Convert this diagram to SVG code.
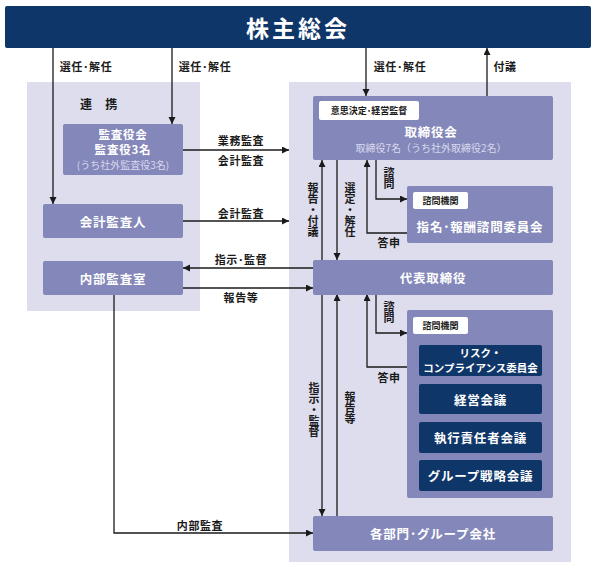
<svg xmlns="http://www.w3.org/2000/svg" width="596" height="567" viewBox="0 0 596 567">
<defs>
<marker id="ah" markerUnits="userSpaceOnUse" markerWidth="8" markerHeight="8" refX="7" refY="3.5" orient="auto">
<path d="M0,0 L7,3.5 L0,7 z" fill="#1a1a1a"/>
</marker>
<style>
text{font-family:"Noto Sans CJK JP","Noto Sans",sans-serif;dominant-baseline:central;text-anchor:middle}
.panel{fill:#dedded}
.box{fill:#8487b9}
.navy{fill:#0f3669}
.wt{fill:#ffffff;font-weight:bold;font-size:12.5px;letter-spacing:0.8px}
.lt{fill:#d8d9ee;font-size:10px}
.lb{fill:#1a1a1a;font-weight:bold;font-size:11px;letter-spacing:0.6px}
.vt{fill:#1a1a1a;font-weight:bold;font-size:11px;writing-mode:vertical-rl;letter-spacing:0px}
.tag{fill:#ffffff}
.tt{fill:#1a1a1a;font-weight:bold;font-size:9px}
.ln{fill:none;stroke:#1a1a1a;stroke-width:1.3}
</style>
</defs>
<rect width="596" height="567" fill="#ffffff"/>
<g id="panels">
<rect class="panel" x="27" y="82" width="173" height="229"/>
<rect class="panel" x="289" y="82" width="282" height="480"/>
<text class="lb" x="99" y="103" style="font-size:12px">連　携</text>
</g>
<g id="connectors">
<path class="ln" d="M53 48 V204" marker-end="url(#ah)"/>
<path class="ln" d="M172 48 V124" marker-end="url(#ah)"/>
<path class="ln" d="M366 48 V96" marker-end="url(#ah)"/>
<path class="ln" d="M487 96 V48" marker-end="url(#ah)"/>
<path class="ln" d="M183 150 H289" marker-end="url(#ah)"/>
<path class="ln" d="M183 221 H289" marker-end="url(#ah)"/>
<path class="ln" d="M313 268 H183" marker-end="url(#ah)"/>
<path class="ln" d="M183 288 H313" marker-end="url(#ah)"/>
<path class="ln" d="M114 295 V533 H313" marker-end="url(#ah)"/>
<path class="ln" d="M322 260 V160" marker-end="url(#ah)"/>
<path class="ln" d="M337 160 V260" marker-end="url(#ah)"/>
<path class="ln" d="M376 160 V199 H407" marker-end="url(#ah)"/>
<path class="ln" d="M407 233 H367 V160" marker-end="url(#ah)"/>
<path class="ln" d="M376 294 V333 H407" marker-end="url(#ah)"/>
<path class="ln" d="M407 367 H367 V294" marker-end="url(#ah)"/>
<path class="ln" d="M322 294 V516" marker-end="url(#ah)"/>
<path class="ln" d="M337 516 V294" marker-end="url(#ah)"/>
<text class="lb" x="86" y="66">選任･解任</text>
<text class="lb" x="205" y="66">選任･解任</text>
<text class="lb" x="400" y="66">選任･解任</text>
<text class="lb" x="505" y="66">付議</text>
<text class="lb" x="241" y="140">業務監査</text>
<text class="lb" x="241" y="160">会計監査</text>
<text class="lb" x="241" y="213">会計監査</text>
<text class="lb" x="241" y="259">指示･監督</text>
<text class="lb" x="241" y="297">報告等</text>
<text class="lb" x="200" y="525">内部監査</text>
<text class="vt" x="313" y="210">報告・付議</text>
<text class="vt" x="350" y="210">選定・解任</text>
<text class="vt" x="389" y="178">諮問</text>
<text class="lb" x="389" y="242">答申</text>
<text class="vt" x="389" y="312">諮問</text>
<text class="lb" x="389" y="377">答申</text>
<text class="vt" x="314" y="410">指示・監督</text>
<text class="vt" x="350" y="408">報告等</text>
</g>
<g id="kabunushi">
<rect class="navy" x="5" y="6" width="586" height="42" rx="2"/>
<text x="298" y="27" style="fill:#fff;font-weight:bold;font-size:23px;letter-spacing:3px">株主総会</text>
</g>
<g id="kansayakukai">
<rect class="box" x="63" y="124" width="120" height="51" rx="2"/>
<text class="wt" x="123" y="134" style="font-size:11.5px">監査役会</text>
<text class="wt" x="123" y="149" style="font-size:11.5px">監査役3名</text>
<text class="lt" x="123" y="164">(うち社外監査役3名)</text>
</g>
<g id="kaikeikansanin">
<rect class="box" x="43" y="204" width="140" height="34" rx="2"/>
<text class="wt" x="113" y="221">会計監査人</text>
</g>
<g id="naibukansashitsu">
<rect class="box" x="43" y="261" width="140" height="34" rx="2"/>
<text class="wt" x="113" y="278">内部監査室</text>
</g>
<g id="torishimariyakukai">
<rect class="box" x="313" y="96" width="240" height="64" rx="2"/>
<rect class="tag" x="319" y="101" width="100" height="19" rx="2"/>
<text class="tt" x="369" y="110.5">意思決定･経営監督</text>
<text class="wt" x="431" y="131">取締役会</text>
<text class="lt" x="431" y="147">取締役7名（うち社外取締役2名）</text>
</g>
<g id="shimei">
<rect class="box" x="407" y="186" width="146" height="57" rx="2"/>
<rect class="tag" x="413" y="192" width="55" height="17" rx="2"/>
<text class="tt" x="440.5" y="200.5">諮問機関</text>
<text class="wt" x="480" y="226">指名･報酬諮問委員会</text>
</g>
<g id="daihyo">
<rect class="box" x="313" y="260" width="240" height="35" rx="2"/>
<text class="wt" x="433" y="277.5">代表取締役</text>
</g>
<g id="shimonkikan">
<rect class="box" x="407" y="310" width="146" height="188" rx="2"/>
<rect class="tag" x="413" y="317" width="55" height="17" rx="2"/>
<text class="tt" x="440.5" y="325.5">諮問機関</text>
</g>
<g id="risk">
<rect class="navy" x="419" y="345" width="123" height="31" rx="2"/>
<text class="wt" x="480.5" y="352.5" style="letter-spacing:0px;font-size:10.5px">リスク・</text>
<text class="wt" x="480.5" y="367" style="letter-spacing:0px;font-size:10.5px">コンプライアンス委員会</text>
</g>
<g id="keiei">
<rect class="navy" x="419" y="384" width="123" height="30" rx="2"/>
<text class="wt" x="480.5" y="399">経営会議</text>
</g>
<g id="shikko">
<rect class="navy" x="419" y="422" width="123" height="31" rx="2"/>
<text class="wt" x="480.5" y="437.5">執行責任者会議</text>
</g>
<g id="group">
<rect class="navy" x="419" y="460" width="123" height="31" rx="2"/>
<text class="wt" x="480.5" y="475.5">グループ戦略会議</text>
</g>
<g id="kakubumon">
<rect class="box" x="313" y="516" width="240" height="35" rx="2"/>
<text class="wt" x="433" y="533.5">各部門･グループ会社</text>
</g>
</svg>
